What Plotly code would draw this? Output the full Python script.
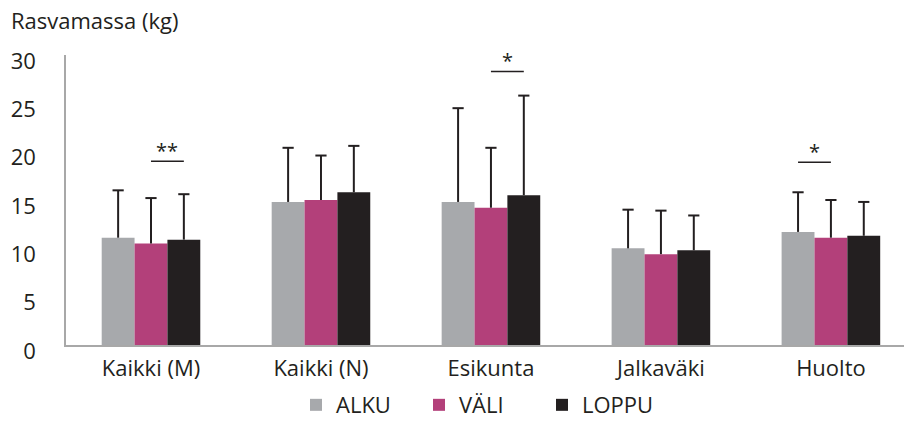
import plotly.graph_objects as go

# Ryhmät ja mittausajankohdat
categories = ["Kaikki (M)", "Kaikki (N)", "Esikunta", "Jalkaväki", "Huolto"]
series_names = ["ALKU", "VÄLI", "LOPPU"]

# Rasvamassa (kg), keskiarvot
alku = [11.1, 14.8, 14.8, 10.0, 11.7]
vali = [10.5, 15.0, 14.2, 9.4, 11.1]
loppu = [10.9, 15.8, 15.5, 9.8, 11.3]

# Keskihajonnat (piirretään vain ylöspäin)
alku_sd = [4.9, 5.6, 9.7, 4.0, 4.1]
vali_sd = [4.7, 4.6, 6.2, 4.5, 3.9]
loppu_sd = [4.7, 4.8, 10.3, 3.6, 3.5]

# Merkitsevät erot: (ryhmän indeksi, sarjasta, sarjaan, taso, merkintä)
significance = [
    (0, 1, 2, 19.0, "**"),
    (2, 1, 2, 28.3, "*"),
    (4, 0, 1, 18.9, "*"),
]

colors = ["#a7a9ac", "#b3407a", "#231f20"]
text_color = "#231f20"
font_family = "Open Sans, Noto Sans, sans-serif"
FS = 22

BARGAP = 0.42
bar_w = (1 - BARGAP) / 3
xpos = list(range(len(categories)))

fig = go.Figure()
all_vals = [alku, vali, loppu]
all_sd = [alku_sd, vali_sd, loppu_sd]
for k, (name, vals, sd, col) in enumerate(zip(series_names, all_vals,
                                              all_sd, colors)):
    fig.add_trace(go.Bar(
        name=name,
        x=xpos,
        y=vals,
        marker=dict(color=col, line=dict(width=0)),
        error_y=dict(type="data", symmetric=False, array=sd,
                     arrayminus=[0] * len(sd), color=text_color,
                     thickness=2, width=0),
    ))

# Hajontaviivojen yläpään poikkiviivat
for k, (vals, sd) in enumerate(zip(all_vals, all_sd)):
    fig.add_trace(go.Scatter(
        x=[i + (k - 1) * bar_w for i in xpos],
        y=[v + s for v, s in zip(vals, sd)],
        mode="markers",
        marker=dict(symbol="line-ew", size=8,
                    line=dict(color=text_color, width=2)),
        showlegend=False, hoverinfo="skip",
    ))

# Merkitsevyysviivat ja tähdet
for gi, s_from, s_to, level, mark in significance:
    x0 = gi + (s_from - 1) * bar_w
    x1 = gi + (s_to - 1) * bar_w
    fig.add_shape(type="line", xref="x", yref="y", x0=x0, x1=x1,
                  y0=level, y1=level,
                  line=dict(color=text_color, width=1.5))
    fig.add_annotation(x=(x0 + x1) / 2, y=level, xref="x", yref="y",
                       text=mark, showarrow=False, yanchor="bottom",
                       yshift=-5,
                       font=dict(size=20, color=text_color,
                                 family=font_family))

# Akselin otsikko vasemmassa yläkulmassa
fig.add_annotation(xref="paper", yref="paper", x=0, y=1, xshift=-57,
                   yshift=35, xanchor="left", yanchor="middle",
                   text="Rasvamassa (kg)", showarrow=False,
                   font=dict(size=FS, color=text_color, family=font_family))

fig.update_layout(
    width=904, height=421,
    margin=dict(l=66, r=0, t=55, b=76, autoexpand=False),
    paper_bgcolor="white", plot_bgcolor="white",
    barmode="group", bargap=BARGAP, bargroupgap=0,
    font=dict(family=font_family, size=FS, color=text_color),
    showlegend=True,
    legend=dict(orientation="h", x=(296 - 66) / 838, xanchor="left",
                y=-0.207, yanchor="middle",
                font=dict(size=FS, color=text_color),
                entrywidth=78, itemwidth=30, traceorder="normal"),
    xaxis=dict(range=[-0.5, 4.43], showline=True, linecolor="#a8a8a8",
               linewidth=1.5, ticks="", showgrid=False, zeroline=False,
               tickmode="array", tickvals=xpos, ticktext=categories,
               ticklabelstandoff=3,
               tickfont=dict(size=FS, color=text_color)),
    yaxis=dict(range=[0, 30], dtick=5, showline=True, linecolor="#a8a8a8",
               linewidth=1.5, ticks="", showgrid=False, zeroline=False,
               ticklabelstandoff=24, ticklabelshift=6,
               tickfont=dict(size=FS, color=text_color)),
)

fig.write_html("out.html")
